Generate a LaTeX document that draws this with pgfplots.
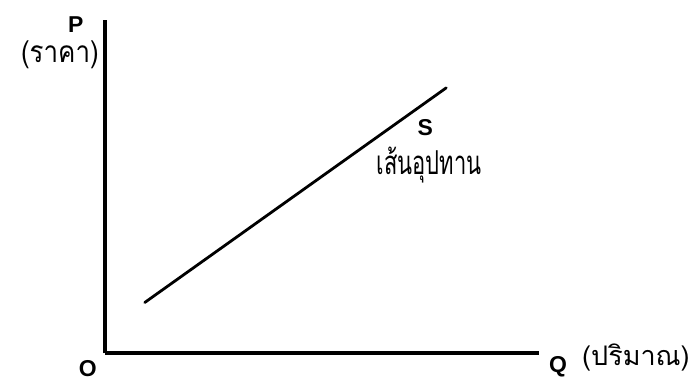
\documentclass[border=0pt]{standalone}
\usepackage{fontspec}
\setmainfont{Liberation Sans}
\newfontfamily\thaifont[Script=Thai]{Loma}
\usepackage{pgfplots}
\pgfplotsset{compat=1.18}
\begin{document}
\begin{tikzpicture}[x=1pt,y=1pt]
\begin{axis}[
  scale only axis,
  width=435pt, height=334pt,
  xmin=105, xmax=540, ymin=31, ymax=365,
  axis lines=left,
  axis line style={-, line width=4pt, black},
  xtick=\empty, ytick=\empty,
  clip=false,
]
\addplot[black, line width=2.8pt, line cap=round] coordinates {(145,82) (447,297)};
\node[font=\bfseries\fontsize{23}{23}\selectfont] at (axis cs:76,360) {P};
\node[font=\thaifont\fontsize{26}{26}\selectfont, yscale=1.15] at (axis cs:60,330) {(ราคา)};
\node[font=\bfseries\fontsize{23}{23}\selectfont] at (axis cs:426,257) {S};
\node[font=\thaifont\fontsize{22}{22}\selectfont, yscale=1.5] at (axis cs:430,220) {เส้นอุปทาน};
\node[font=\bfseries\fontsize{23}{23}\selectfont] at (axis cs:88,16) {O};
\node[font=\bfseries\fontsize{23}{23}\selectfont] at (axis cs:559,18) {Q};
\node[font=\thaifont\fontsize{27}{27}\selectfont] at (axis cs:637,27) {(ปริมาณ)};
\coordinate (bl) at (axis cs:0,0);
\coordinate (tr) at (axis cs:693,385);
\end{axis}
\path (bl) rectangle (tr);
\end{tikzpicture}
\end{document}
